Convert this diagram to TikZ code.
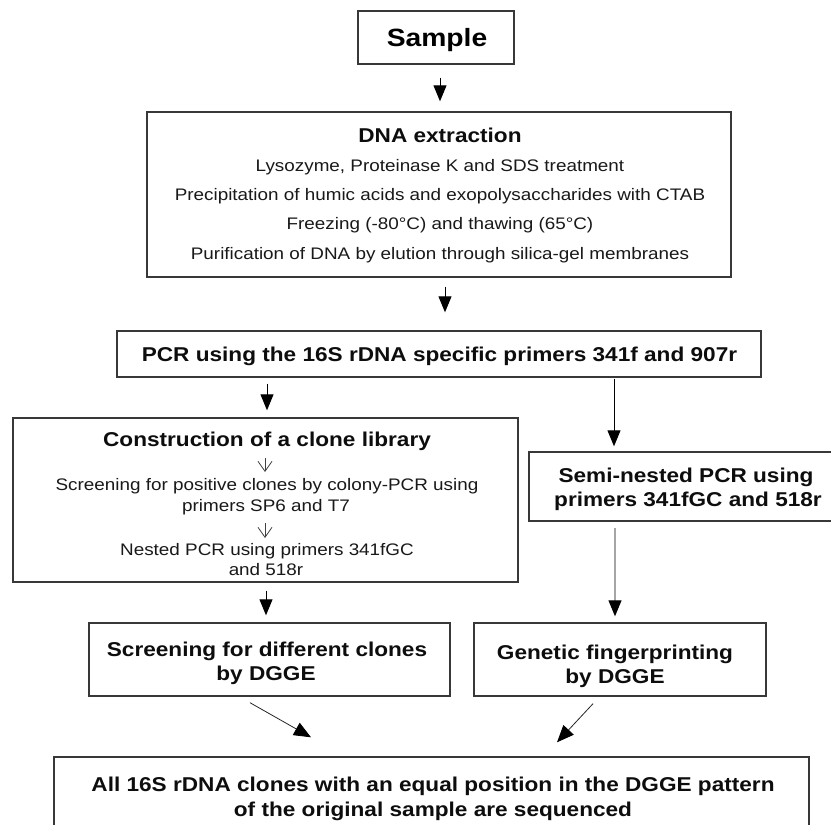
\documentclass[tikz,border=0pt]{standalone}
\usepackage{fontspec}
\setmainfont{Liberation Sans}[FakeStretch=1.13]
\usetikzlibrary{arrows.meta}
\begin{document}
\begin{tikzpicture}[x=1pt,y=-1pt,
  box/.style={draw=black!78, line width=1.4pt, inner sep=0pt},
  sam/.style={anchor=base, font=\fontsize{25}{30}\selectfont\bfseries, text=black},
  ttl/.style={anchor=base, font=\fontsize{20}{24}\selectfont\bfseries, text=black!95},
  txt/.style={anchor=base, font=\fontsize{16.7}{20}\selectfont, text=black!90},
  arr/.style={draw=black, line width=1pt, -{Triangle[width=13pt,length=16pt]}},
  garr/.style={draw=black!35, line width=1.1pt, -{Triangle[width=13pt,length=16pt,color=black]}},
  darr/.style={draw=black!85, line width=0.8pt, -{Triangle[width=14pt,length=17pt,color=black]}},
  iarr/.style={draw=black!75, line width=0.8pt, -{Straight Barb[width=14pt,length=10pt]}}]
\useasboundingbox (0,0) rectangle (831,825);
\fill[white] (0,0) rectangle (831,825);
\clip (0,0) rectangle (831,825);

% boxes
\node[box, minimum width=156pt, minimum height=53pt] (sample) at (436,37.5) {};
\node[box, minimum width=584pt, minimum height=165pt] (dna) at (439,194.5) {};
\node[box, minimum width=644pt, minimum height=46pt] (pcr) at (439,354) {};
\node[box, minimum width=505pt, minimum height=164pt] (cons) at (265.5,500) {};
\node[box, minimum width=312pt, minimum height=69pt] (semi) at (685,486.5) {};
\node[box, minimum width=361pt, minimum height=73pt] (scr) at (269.5,659.5) {};
\node[box, minimum width=292pt, minimum height=73pt] (gen) at (620,659.5) {};
\node[box, minimum width=755pt, minimum height=83pt] (fin) at (431.5,798.5) {};

% texts
\node[sam] (sample-t) at (437,46.7) {Sample};
\node[ttl] (dna-t) at (440,142) {DNA extraction};
\node[txt] (dna-1) at (440,171) {Lysozyme, Proteinase K and SDS treatment};
\node[txt] (dna-2) at (440,200) {Precipitation of humic acids and exopolysaccharides with CTAB};
\node[txt] (dna-3) at (440,229.5) {Freezing (-80°C) and thawing (65°C)};
\node[txt] (dna-4) at (440,259) {Purification of DNA by elution through silica-gel membranes};
\node[ttl] (pcr-t) at (439.5,361) {PCR using the 16S rDNA specific primers 341f and 907r};
\node[ttl] (cons-t) at (267,446.5) {Construction of a clone library};
\node[txt] (cons-1) at (267,490) {Screening for positive clones by colony-PCR using};
\node[txt] (cons-2) at (266,511.5) {primers SP6 and T7};
\node[txt] (cons-3) at (267,555) {Nested PCR using primers 341fGC};
\node[txt] (cons-4) at (266,575) {and 518r};
\node[ttl] (semi-1) at (686,482) {Semi-nested PCR using};
\node[ttl] (semi-2) at (688,506) {primers 341fGC and 518r};
\node[ttl] (scr-1) at (267,656.7) {Screening for different clones};
\node[ttl] (scr-2) at (266,680.7) {by DGGE};
\node[ttl] (gen-1) at (615,659) {Genetic fingerprinting};
\node[ttl] (gen-2) at (615,683) {by DGGE};
\node[ttl] (fin-1) at (433,791.7) {All 16S rDNA clones with an equal position in the DGGE pattern};
\node[ttl] (fin-2) at (433,816.7) {of the original sample are sequenced};

% connectors
\draw[arr] ([xshift=4pt,yshift=-13pt]sample.south) -- ([xshift=1pt,yshift=10pt]dna.north);
\draw[arr] ([xshift=6pt,yshift=-9pt]dna.south) -- ([xshift=6pt,yshift=18pt]pcr.north);
\draw[arr] ([xshift=-172pt,yshift=-6pt]pcr.south) -- ([xshift=1.5pt,yshift=7pt]cons.north);
\draw[arr] ([xshift=175pt,yshift=-1pt]pcr.south) -- ([xshift=-71pt,yshift=5pt]semi.north);
\draw[arr] ([xshift=0.5pt,yshift=-8pt]cons.south) -- ([xshift=-3.5pt,yshift=7pt]scr.north);
\draw[garr] ([xshift=-70pt,yshift=-6pt]semi.south) -- ([xshift=-5pt,yshift=6pt]gen.north);
\draw[darr] ([xshift=-19.5pt,yshift=-6pt]scr.south) -- ([xshift=-120.5pt,yshift=19pt]fin.north);
\draw[darr] ([xshift=-27pt,yshift=-7pt]gen.south) -- ([xshift=125.5pt,yshift=14pt]fin.north);
\draw[iarr] ([xshift=-2pt,yshift=-11.5pt]cons-t.base) -- ([xshift=-2pt,yshift=18pt]cons-1.base);
\draw[iarr] ([xshift=-1pt,yshift=-11.5pt]cons-2.base) -- ([xshift=-2pt,yshift=17pt]cons-3.base);
\end{tikzpicture}
\end{document}
